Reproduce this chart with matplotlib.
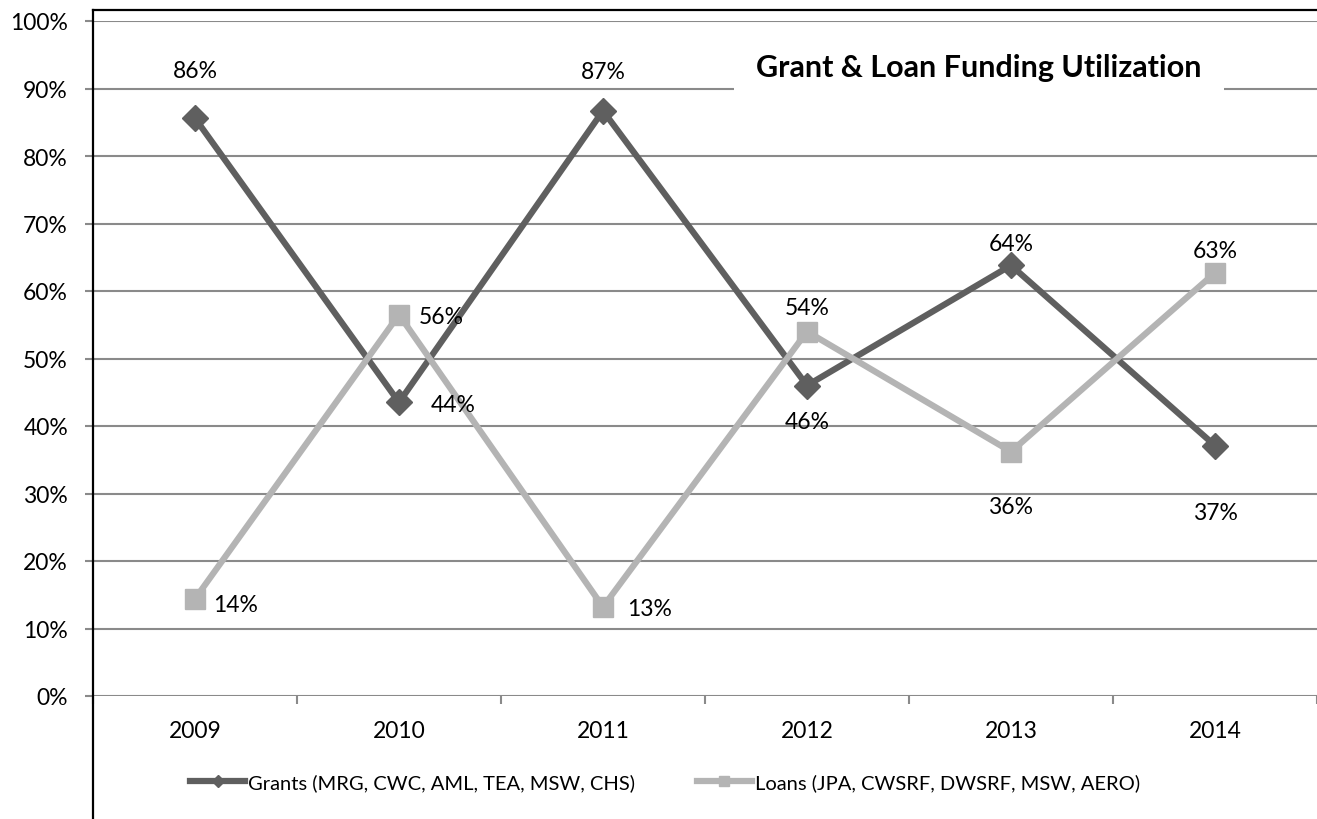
import numpy as np
import matplotlib.pyplot as plt
from matplotlib.lines import Line2D

plt.rcParams['font.family'] = ['Lato', 'DejaVu Sans']

# dati
years = ['2009', '2010', '2011', '2012', '2013', '2014']
grants = [85.6, 43.5, 86.7, 46.0, 63.8, 37.1]
loans = [14.4, 56.5, 13.2, 54.0, 36.2, 62.7]
grants_name = 'Grants (MRG, CWC, AML, TEA, MSW, CHS)'
loans_name = 'Loans (JPA, CWSRF, DWSRF, MSW, AERO)'
title = 'Grant & Loan Funding Utilization'

# posizione delle etichette (offset in pixel)
grants_off = [(0, 48), (54, -2), (0, 39), (0, -36), (0, 22), (0, -67)]
loans_off = [(41, -6), (42, -2), (47, -2), (0, 24), (0, -55), (0, 22)]

dark = '#5f5f5f'
light = '#b4b4b4'
grid_c = '#8a8a8a'

W, H = 1317, 820
fig = plt.figure(figsize=(W / 100, H / 100), dpi=100)
ax = fig.add_axes([93 / W, 1 - 697 / H, 1 - 93 / W, (697 - 22) / H])

x = np.arange(len(years))
ax.plot(x, grants, color=dark, lw=4.5, marker='D', ms=13, label=grants_name, zorder=3)
ax.plot(x, loans, color=light, lw=4.5, marker='s', ms=14, label=loans_name, zorder=3)

for xi, v, off in zip(x, grants, grants_off):
    ax.annotate(f'{v:.0f}%', (xi, v), xytext=(off[0] * 0.72, off[1] * 0.72),
                textcoords='offset points', ha='center', va='center', fontsize=16.5)
for xi, v, off in zip(x, loans, loans_off):
    ax.annotate(f'{v:.0f}%', (xi, v), xytext=(off[0] * 0.72, off[1] * 0.72),
                textcoords='offset points', ha='center', va='center', fontsize=16.5)

ax.set_xlim(-0.5, len(years) - 0.5)
ax.set_ylim(0, 100)
ax.set_yticks(np.arange(0, 101, 10))
ax.set_yticklabels([f'{t}%' for t in range(0, 101, 10)], fontsize=16.5)
ax.set_xticks(x)
ax.set_xticklabels(years, fontsize=16.5)
ax.set_xticks(np.arange(-0.5, len(years), 1), minor=True)
ax.tick_params(axis='x', which='major', length=0, pad=17)
ax.tick_params(axis='x', which='minor', length=6, width=1.5, color=grid_c)
ax.tick_params(axis='y', length=6, width=1.5, color=grid_c, pad=12)
ax.grid(axis='y', color=grid_c, lw=1.5)
ax.set_axisbelow(True)
for s in ax.spines.values():
    s.set_visible(False)

ax.text(0.724, 0.932, title, transform=ax.transAxes, ha='center', va='center',
        fontsize=22, fontweight='bold', zorder=4,
        bbox=dict(facecolor='white', edgecolor='none', pad=16))

# bordo del grafico
fig.add_artist(Line2D([93 / W, 93 / W], [0, 1 - 11 / H], color='black', lw=1.6,
                      transform=fig.transFigure))
fig.add_artist(Line2D([93 / W, 1], [1 - 11 / H, 1 - 11 / H], color='black', lw=1.6,
                      transform=fig.transFigure))

fig.legend(loc='center', bbox_to_anchor=(665 / W, 1 - 783 / H), ncol=2, frameon=False,
           fontsize=14.5, handlelength=2.7, columnspacing=3.1, handletextpad=0.15,
           markerscale=0.5)

plt.savefig('out.png', dpi=100)
plt.close()
